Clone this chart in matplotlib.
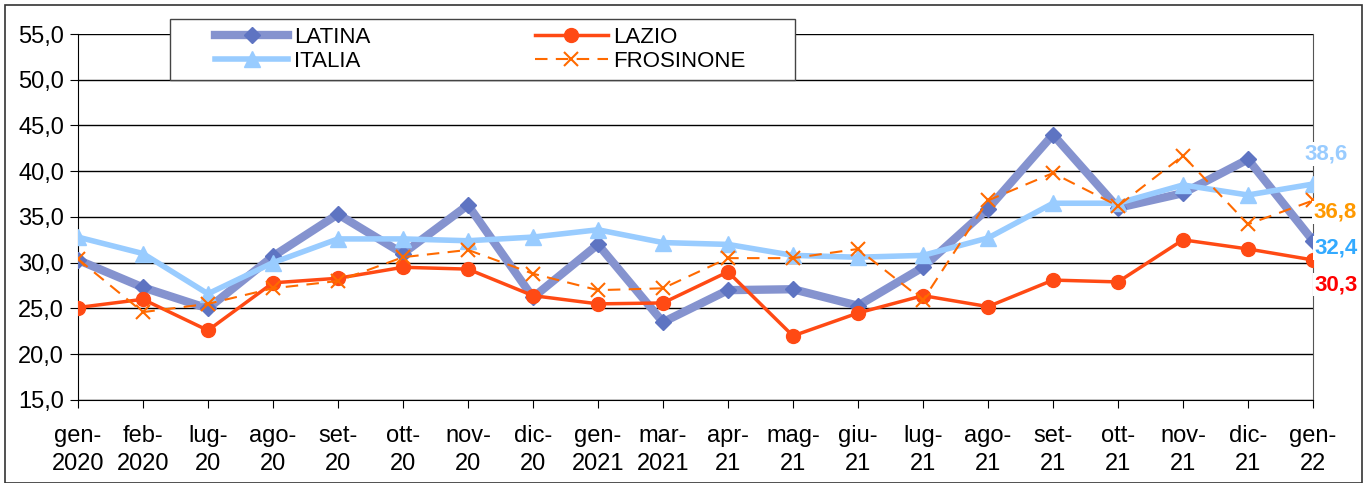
import matplotlib.pyplot as plt

plt.rcParams['font.family'] = ['Liberation Sans', 'DejaVu Sans']

mesi = ["gen-\n2020", "feb-\n2020", "lug-\n20", "ago-\n20", "set-\n20", "ott-\n20", "nov-\n20",
        "dic-\n20", "gen-\n2021", "mar-\n2021", "apr-\n21", "mag-\n21", "giu-\n21", "lug-\n21",
        "ago-\n21", "set-\n21", "ott-\n21", "nov-\n21", "dic-\n21", "gen-\n22"]

latina = [30.3, 27.3, 25.0, 30.7, 35.3, 31.0, 36.3, 26.2, 32.0, 23.5,
          27.0, 27.1, 25.3, 29.5, 35.9, 44.0, 36.0, 37.6, 41.3, 32.4]
lazio = [25.1, 26.0, 22.6, 27.8, 28.3, 29.5, 29.3, 26.4, 25.5, 25.6,
         29.0, 22.0, 24.5, 26.4, 25.2, 28.1, 27.9, 32.5, 31.5, 30.3]
italia = [32.8, 31.0, 26.6, 30.0, 32.6, 32.6, 32.4, 32.8, 33.6, 32.2,
          32.0, 30.8, 30.6, 30.8, 32.7, 36.5, 36.5, 38.5, 37.4, 38.6]
frosinone = [30.4, 24.6, 25.5, 27.2, 28.0, 30.6, 31.4, 28.8, 27.0, 27.2,
             30.5, 30.5, 31.5, 25.9, 36.8, 39.8, 36.2, 41.7, 34.2, 36.8]

x = range(len(mesi))

fig = plt.figure(figsize=(13.67, 4.83), dpi=100)
ax = fig.add_axes([0.057, 0.172, 0.9035, 0.7576])

ax.plot(x, latina, color='#8593CF', lw=6, marker='D', ms=8, mfc='#5E74C2', mec='#5E74C2',
        label='LATINA', zorder=3)
ax.plot(x, lazio, color='#FF4A14', lw=2.5, marker='o', ms=10, label='LAZIO', zorder=5)
ax.plot(x, italia, color='#99CCFF', lw=4, marker='^', ms=12, label='ITALIA', zorder=4)
ax.plot(x, frosinone, color='#FF6A00', lw=1.5, ls=(0, (6, 4)), marker='x', ms=10, mew=1.5,
        label='FROSINONE', zorder=6)

ax.set_ylim(15, 55)
ax.set_xlim(0, len(mesi) - 1)
ax.set_yticks(range(15, 56, 5))
ax.set_yticklabels([f"{v:.1f}".replace('.', ',') for v in range(15, 56, 5)], fontsize=17)
ax.set_xticks(list(x))
ax.set_xticklabels(mesi, fontsize=17, linespacing=1.35)
ax.tick_params(axis='x', length=6, pad=12)
ax.tick_params(axis='y', length=6, pad=4)
ax.grid(axis='y', color='black', lw=1)
ax.set_axisbelow(True)
ax.spines['top'].set_visible(False)
ax.spines['right'].set_color('#555555')

# etichette finali
fin = [("38,6", 41.9, '#99CCFF', -6), ("36,8", 35.5, '#FF9900', 0),
       ("32,4", 31.6, '#33AAFF', 1), ("30,3", 27.6, '#FF0000', 1)]
for t, yv, c, dx in fin:
    ax.annotate(t, (len(mesi) - 1, yv), xytext=(dx, 0), textcoords='offset points',
                color=c, fontsize=16, fontweight='bold', va='center', ha='left',
                annotation_clip=False, zorder=7, bbox=dict(fc='white', ec='none', pad=1))

# riquadro legenda
fig.patches.append(plt.Rectangle((170 / 1367, 1 - 80 / 483), 625 / 1367, 61 / 483,
                                 transform=fig.transFigure, fc='white', ec='#444444',
                                 lw=1, zorder=10))
handles, labels = ax.get_legend_handles_labels()
order = [0, 2, 1, 3]
leg = fig.legend([handles[i] for i in order], [labels[i] for i in order], ncol=2,
                 loc='center left', bbox_to_anchor=(215 / 1367, 1 - 49.5 / 483),
                 fontsize=16, frameon=False, handlelength=3.3, handletextpad=0.25,
                 borderaxespad=0, borderpad=0, labelspacing=0.15, columnspacing=7.4)
leg.set_zorder(11)

fig.patches.append(plt.Rectangle((0.004, 0.0), 0.992, 0.99, transform=fig.transFigure,
                                 fill=False, ec='#333333', lw=1.2))

fig.savefig("out.png", dpi=100)
